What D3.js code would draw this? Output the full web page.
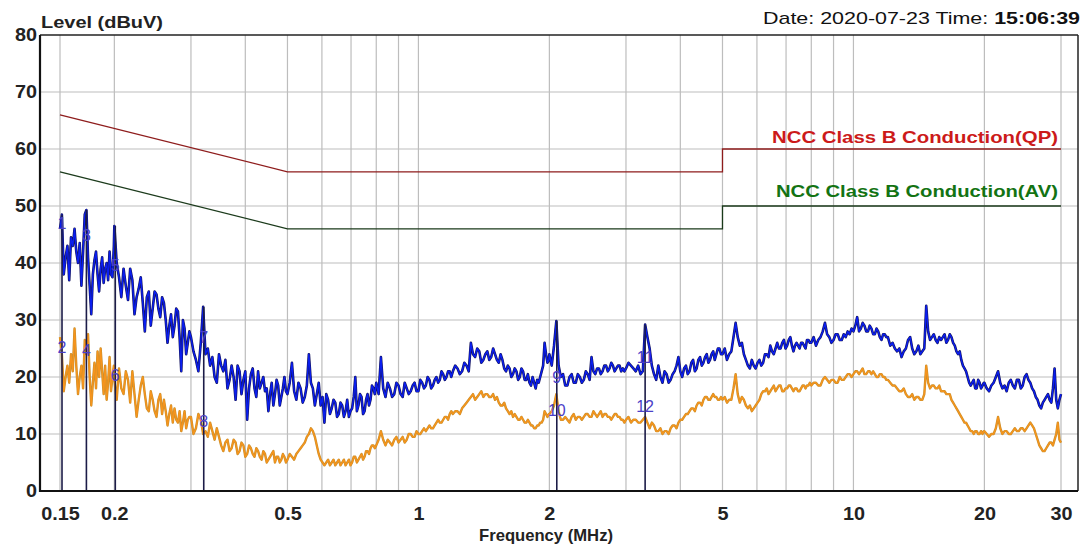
<!DOCTYPE html>
<html><head><meta charset="utf-8">
<script src="https://cdn.jsdelivr.net/npm/d3@7"></script>
<style>
body{margin:0;background:#fff}
svg{display:block}
text{font-family:"Liberation Sans",Arial,sans-serif}
</style>
</head><body>
<svg id="chart" width="1084" height="546"></svg>
<script>
// ---------------- data ----------------
// Frequency of every scan point (MHz)
const freqs = [
0.1500,0.1515,0.1530,0.1545,0.1560,0.1575,0.1590,0.1605,0.1620,0.1635,0.1650,0.1665,0.1680,0.1695,0.1710,0.1725,0.1740,0.1755,0.1770,0.1785,0.1800,0.1815,0.1830,0.1845,0.1860,0.1875,0.1890,0.1905,0.1920,0.1935,0.1950,0.1965,0.1980,0.1995,
0.2000,0.2025,0.2050,0.2075,0.2100,0.2125,0.2150,0.2175,0.2200,0.2225,0.2250,0.2275,0.2300,0.2325,0.2350,0.2375,0.2400,0.2425,0.2450,0.2475,0.2500,0.2525,0.2550,0.2575,0.2600,0.2625,0.2650,0.2675,0.2700,0.2725,0.2750,0.2775,0.2800,0.2825,0.2850,0.2875,0.2900,0.2925,0.2950,0.2975,
0.300,0.304,0.308,0.312,0.316,0.320,0.324,0.328,0.332,0.336,0.340,0.344,0.348,0.352,0.356,0.360,0.364,0.368,0.372,0.376,0.380,0.384,0.388,0.392,0.396,0.400,0.404,0.408,0.412,0.416,0.420,0.424,0.428,0.432,0.436,0.440,0.444,0.448,0.452,0.456,0.460,0.464,0.468,0.472,0.476,0.480,0.484,0.488,0.492,0.496,
0.500,0.506,0.512,0.518,0.524,0.530,0.536,0.542,0.548,0.554,0.560,0.566,0.572,0.578,0.584,0.590,0.596,0.602,0.608,0.614,0.620,0.626,0.632,0.638,0.644,0.650,0.656,0.662,0.668,0.674,0.680,0.686,0.692,0.698,0.704,0.710,0.716,0.722,0.728,0.734,0.740,0.746,0.752,0.758,0.764,0.770,0.776,0.782,0.788,0.794,
0.80,0.81,0.82,0.83,0.84,0.85,0.86,0.87,0.88,0.89,0.90,0.91,0.92,0.93,0.94,0.95,0.96,0.97,0.98,0.99,1.00,1.01,1.02,1.03,1.04,1.05,1.06,1.07,1.08,1.09,1.10,1.11,1.12,1.13,1.14,1.15,1.16,1.17,1.18,1.19,
1.200,1.215,1.230,1.245,1.260,1.275,1.290,1.305,1.320,1.335,1.350,1.365,1.380,1.395,1.410,1.425,1.440,1.455,1.470,1.485,1.500,1.515,1.530,1.545,1.560,1.575,1.590,1.605,1.620,1.635,1.650,1.665,1.680,1.695,1.710,1.725,1.740,1.755,1.770,1.785,1.800,1.815,1.830,1.845,1.860,1.875,1.890,1.905,1.920,1.935,1.950,1.965,1.980,1.995,
2.000,2.025,2.050,2.075,2.100,2.125,2.150,2.175,2.200,2.225,2.250,2.275,2.300,2.325,2.350,2.375,2.400,2.425,2.450,2.475,2.500,2.525,2.550,2.575,2.600,2.625,2.650,2.675,2.700,2.725,2.750,2.775,2.800,2.825,2.850,2.875,2.900,2.925,2.950,2.975,
3.00,3.04,3.08,3.12,3.16,3.20,3.24,3.28,3.32,3.36,3.40,3.44,3.48,3.52,3.56,3.60,3.64,3.68,3.72,3.76,3.80,3.84,3.88,3.92,3.96,4.00,4.04,4.08,4.12,4.16,4.20,4.24,4.28,4.32,4.36,4.40,4.44,4.48,4.52,4.56,4.60,4.64,4.68,4.72,4.76,4.80,4.84,4.88,4.92,4.96,
5.00,5.06,5.12,5.18,5.24,5.30,5.36,5.42,5.48,5.54,5.60,5.66,5.72,5.78,5.84,5.90,5.96,6.02,6.08,6.14,6.20,6.26,6.32,6.38,6.44,6.50,6.56,6.62,6.68,6.74,6.80,6.86,6.92,6.98,7.04,7.10,7.16,7.22,7.28,7.34,7.40,7.46,7.52,7.58,7.64,7.70,7.76,7.82,7.88,7.94,
8.0,8.1,8.2,8.3,8.4,8.5,8.6,8.7,8.8,8.9,9.0,9.1,9.2,9.3,9.4,9.5,9.6,9.7,9.8,9.9,10.0,10.1,10.2,10.3,10.4,10.5,10.6,10.7,10.8,10.9,11.0,11.1,11.2,11.3,11.4,11.5,11.6,11.7,11.8,11.9,
12.00,12.15,12.30,12.45,12.60,12.75,12.90,13.05,13.20,13.35,13.50,13.65,13.80,13.95,14.10,14.25,14.40,14.55,14.70,14.85,15.00,15.15,15.30,15.45,15.60,15.75,15.90,16.05,16.20,16.35,16.50,16.65,16.80,16.95,17.10,17.25,17.40,17.55,17.70,17.85,18.00,18.15,18.30,18.45,18.60,18.75,18.90,19.05,19.20,19.35,19.50,19.65,19.80,19.95,
20.00,20.25,20.50,20.75,21.00,21.25,21.50,21.75,22.00,22.25,22.50,22.75,23.00,23.25,23.50,23.75,24.00,24.25,24.50,24.75,25.00,25.25,25.50,25.75,26.00,26.25,26.50,26.75,27.00,27.25,27.50,27.75,28.00,28.25,28.50,28.75,29.00,29.25,29.50,29.75,30.00
];
// Peak (QP scan, blue) level in dBuV
const peakLevels = [
46,48.5,38,41,43,37,44.5,43,46,42,40,43.5,36,42,48.5,49.3,41,36,31,38,40.5,42,38,35,39,41,36.5,39,40,37,42,38,37.5,43,
46.5,40,37.5,34,39,36,33.5,39,37,31,34,35.5,37.5,33,28,34,35,29,32,35,34.5,32,30.5,34,33,30,26,29,31,27,29,32,31.5,27,21,30,28.5,24,26,28,
27,24.5,23,21,26,32.3,24,25,22,23.5,20,19,24,22,21,23,18,19.5,22,20,16,22,21,17,19.5,21,12.5,18,20.5,21.5,18,16.5,21,18,19,20,17.5,18,14,17,19,15,17,19.5,18.5,15,16.5,18,20,17.5,
17,19,22.5,17.5,16,19,18,15.5,16.5,18.5,24,19,18,15,17,19,15,16.5,12,17,16,13.5,14.5,16,15.5,13,13.5,15.5,15,13,14,16,13,14,14.5,16.5,20,14,15,17,16.5,13.5,14,16,17,15,16,18.5,18,17,
19,17,23.5,18,16.5,19,18,16.5,17,19,18.5,17,16.5,19,18,17,17.5,18.5,19,17.5,17.5,19.5,19,18,18.5,20,19.5,18,18.5,19.5,20,19,19.5,21,20.5,19.5,20,21,21,20,
21,22,21.5,20.5,21,22.5,22,21,26,24,23.5,25,24.5,22.5,23,24,24.5,23,23.5,25,24,23,22.5,24,23,21.5,21,22,21.5,20,20.5,21.5,21,19.5,20,21.5,21,19.5,19.5,20.5,19,18.5,20,19,18,19.5,19,20,21,22,26,24,22.5,23,
24,22,25.5,29.8,22,20,20.5,18.5,18.5,20,20.5,19,19,20.5,20,19,19.5,21,20.5,19.5,23.5,21,20.5,21.5,21.5,20.5,21,22,22,21,21.5,22.5,22,21,21.5,22,22,21,21.5,21,
21.5,22.5,22,21.5,21,22,20.5,21,29.2,27,25,22,20.5,19.5,22,20,19,21,20.5,19,19.5,20.5,21,22,23.5,21,20,21.5,22,20.5,21,22.5,23,21,21.5,23,23.5,22,22.5,23.5,24,22.5,23,24,24.5,23,24,25,25,24,
24,25,23,24,24.5,27,29.5,27,25.5,26,24,23,22,21.5,23,22,21.5,22.5,23,22,22.5,24,24,23.5,25.5,24.5,24,25,26,25,25,26,26.5,25,25.5,26.5,27,25.5,24.5,25.5,26,25.5,25,26,26,25.5,25,26.5,26.5,26,
26,27,25.5,26.5,27,28,29.5,27.5,27,26,26.5,27.5,27.5,26.5,26.5,27.5,27,28,27.5,28.5,28,29,30.5,28,28.5,29.5,29,28,28,29,28.5,27.5,27.5,28.5,28,27,26.5,27.5,27.5,27,
27,25.5,26,25,24.5,25,23.5,24.5,25,26.5,27,25,24,24.5,25.5,24,24.5,25,32.5,28,26.5,27,27.5,26.5,26,27,26.5,27,27.5,26,26.5,27.5,27,26,25.5,24.5,24,24.5,23,22,21.5,21,20,19,18.5,19,19.5,18,18,19.5,19,18,18.5,19,
19,18,17.5,18.5,19,20,21,19,18,18.5,17.5,19,19.5,18.5,18,19.5,19.5,18,18.5,20,20.5,19.5,19,18,17.5,16.5,16,15,14.5,15.5,16,16.5,17,16,15.5,18,21.5,16,14.5,16,17
];
// Average (AV scan, orange) level in dBuV
const avgLevels = [
27,24,17.5,20,22,19,24,21,28.5,22,17,20,22,18,26.5,24,27.5,20,15,19,22.5,18,24.5,20,25,21,17,22,16,19,23.5,17.5,20,22,
19.5,16,21.5,18,17,21,19.5,15.5,21,17,13,16,18.5,20,17,14.5,14,17.5,16,14,13,16,17,13.5,16,14,11.5,13.5,15,12,14.5,12.5,12,14,10.5,12,14,11,12.5,13,
13,10,11,13.5,12.5,10,10.5,9.5,12,10.5,9,11,9.5,8,7,8.5,9,7,7.5,9,8.5,6.5,7,8.5,8,6,6.5,8,7.5,6.5,6,7.5,7,6,5.5,7,6.5,5,5.5,6,6.5,7,5,6,6,5,5.5,6.5,6,5,
5.5,6.5,6,5.5,6.5,7,7.5,8,8.5,9.5,10,11,10.5,9.5,8,6.5,5.5,5,4.5,5,5.5,4.5,5,5.5,4.5,5,5.5,4.5,5,5.5,4.5,5,5.5,4.5,5,6,6,5,5.5,6,6.5,5.5,6,7,7,6.5,7.5,8,8,7.5,
8,9,10.5,9,8,9,8.5,8,9,9.5,8.5,9,9.5,8.5,9,10,10,9.5,9.5,10.5,10,10,10.5,11,10.5,11,11.5,11,11,11.5,12,12.5,12,12,12.5,13,13,12.5,13.5,14,
13.5,14,14,13.5,14.5,15,15.5,16,16.5,17,16,16.5,17,17.5,16.5,17,17,16.5,16.5,17,16,16.5,15.5,15,15,15.5,14.5,14,13.5,14,13,13.5,13,12.5,12.5,13,12.5,12,12,12.5,12,11.5,11.5,11,11,11.5,11.5,12,12,12.5,14,13.5,13,13.5,
13.5,14,15,17,14,12.5,12.5,13,12.5,12,13,13.5,12.5,13,13,12.5,13,13.5,13.5,13,13,14,13.5,13,13.5,14,13,13.5,13.5,13,13,12.5,13,13.5,13.5,13,13,12.5,12.5,12,
12.5,13,12,12.5,12.5,12,12,12.5,13,12,11,12,11.5,10.5,10.5,11,10,10.5,10.5,10,11,11.5,11.5,11,12,12.5,12.5,13,13.5,13.5,14,14.5,14.5,14,15,15.5,15.5,15,16,16.5,16.5,16,16,16.5,17,16.5,16.5,16,16,16.5,
16,16.5,15.5,16,16,18,20.5,17,15.5,16.5,16,15,14.5,15,14,14.5,15,15.5,16,17,17.5,17.5,18,17,17.5,18,18.5,17.5,18,18.5,18.5,17.5,17.5,18,18,18.5,18.5,18,17.5,18,18,17.5,17.5,18,18.5,18.5,18,18.5,18.5,19,
18.5,19,19,18.5,18.5,19.5,20,19.5,19,19.5,19.5,19,19,20,19.5,19.5,20,20.5,20.5,20,20.5,21,21,20.5,21,21.5,20.5,20.5,21,21,20.5,21,20.5,20,20,20.5,20.5,20,20,19.5,
19.5,19,18.5,18.5,18,17.5,17.5,18,17,16.5,16.5,17,16,16.5,16.5,16,16,17,22,19,18,18.5,18.5,18,18,18.5,17.5,17.5,17.5,17,17,17,16,15.5,15,14.5,14,13.5,13,12.5,12,12,11.5,11,10.5,10.5,10,10.5,10.5,10,10,10.5,10,10.5,
10.5,10,9.5,10,10,11,13,11,10,10.5,10.5,10,10,10.5,11,10.5,10.5,11,11,10.5,11,11.5,12,11.5,11,10,9,8,7.5,7,7,7.5,8,8.5,8.5,8,9,10,12,9,8.5
];

// Limit lines (NCC Class B conduction)
const limitFreqs = [0.15, 0.5, 5, 5, 30];
const qpLimit = [66, 56, 56, 60, 60];
const avLimit = [56, 46, 46, 50, 50];

// Markers
const markerFreqs = [0.1516, 0.1725, 0.201, 0.321, 2.08, 3.32];
const markerTops  = [48.5, 49.3, 46.5, 32.3, 29.8, 29.2];
const oddNames    = ["1","3","5","7","9","11"];
const oddLevels   = [47, 45, 39.6, 27, 20, 23.5];
const evenNames   = ["2","4","6","8","10","12"];
const evenLevels  = [25.3, 24.7, 20.4, 12.3, 14.2, 15];

// Axis ticks
const yTicks = [0,10,20,30,40,50,60,70,80];
const xTickValues = [0.15,0.2,0.5,1,2,5,10,20,30];
const xTickLabels = ["0.15","0.2","0.5","1","2","5","10","20","30"];
const xGridValues = [0.15,0.2,0.3,0.4,0.5,0.6,0.7,0.8,0.9,1,2,3,4,5,6,7,8,9,10,20,30];
const yGridValues = [10,20,30,40,50,60,70];

// ---------------- drawing ----------------
const svg = d3.select("#chart");
const frameL = 40, frameR = 1078, frameT = 35, frameB = 491;
const x = d3.scaleLog().domain([0.15, 30]).range([60, 1061]);
const y = d3.scaleLinear().domain([0, 80]).range([491, 35]);

function stretch(sel, k){
  sel.each(function(){
    const w = this.getComputedTextLength();
    d3.select(this).attr("textLength", w*k).attr("lengthAdjust","spacingAndGlyphs");
  });
}

// grid
const g = svg.append("g");
g.selectAll("line.vg").data(xGridValues).join("line")
  .attr("x1", d=>x(d)).attr("x2", d=>x(d)).attr("y1", frameT).attr("y2", frameB)
  .attr("stroke", "#bdbdbd").attr("stroke-width", 1.2);
g.selectAll("line.hg").data(yGridValues).join("line")
  .attr("x1", frameL).attr("x2", frameR).attr("y1", d=>y(d)).attr("y2", d=>y(d))
  .attr("stroke", "#bdbdbd").attr("stroke-width", 1.2);

// limits
const limIdx = d3.range(limitFreqs.length);
const limLine = arr => d3.line().x(i=>x(limitFreqs[i])).y(i=>y(arr[i]))(limIdx);
svg.append("path").attr("d", limLine(qpLimit)).attr("fill","none").attr("stroke","#8e1c1c").attr("stroke-width",1.3);
svg.append("path").attr("d", limLine(avLimit)).attr("fill","none").attr("stroke","#1b3a1b").attr("stroke-width",1.3);

const lq = svg.append("text").text("NCC Class B Conduction(QP)").attr("x",1058).attr("y",143)
  .attr("text-anchor","end").attr("font-size",17).attr("font-weight","bold").attr("fill","#cc1a1a");
lq.attr("textLength",286).attr("lengthAdjust","spacingAndGlyphs");
const la = svg.append("text").text("NCC Class B Conduction(AV)").attr("x",1058).attr("y",197)
  .attr("text-anchor","end").attr("font-size",17).attr("font-weight","bold").attr("fill","#137313");
la.attr("textLength",282).attr("lengthAdjust","spacingAndGlyphs");

// traces
const idx = d3.range(freqs.length);
const trace = arr => d3.line().x(i=>x(freqs[i])).y(i=>y(arr[i]))(idx);
svg.append("path").attr("d", trace(avgLevels)).attr("fill","none").attr("stroke","#c8902e").attr("stroke-width",2.4).attr("stroke-linejoin","round");
svg.append("path").attr("d", trace(avgLevels)).attr("fill","none").attr("stroke","#f7941c").attr("stroke-width",1.3).attr("stroke-linejoin","round");
svg.append("path").attr("d", trace(peakLevels)).attr("fill","none").attr("stroke","#15155e").attr("stroke-width",2.6).attr("stroke-linejoin","round");
svg.append("path").attr("d", trace(peakLevels)).attr("fill","none").attr("stroke","#0a1ef0").attr("stroke-width",1.4).attr("stroke-linejoin","round");

// marker lines
svg.selectAll("line.mk").data(markerFreqs).join("line")
  .attr("x1", d=>x(d)).attr("x2", d=>x(d))
  .attr("y1", (d,i)=>y(markerTops[i])).attr("y2", y(0))
  .attr("stroke","#1c1c48").attr("stroke-width",1.6);
const mkText = (names, levels) => svg.append("g").selectAll("text").data(names).join("text")
  .text(d=>d).attr("x",(d,i)=>x(markerFreqs[i])).attr("y",(d,i)=>y(levels[i])+6)
  .attr("text-anchor","middle").attr("font-size",16).attr("fill","#4a40c8");
mkText(oddNames, oddLevels);
mkText(evenNames, evenLevels);

// axes
const yAxis = svg.append("g").attr("transform",`translate(${frameL},0)`)
  .call(d3.axisLeft(y).tickValues(yTicks).tickSize(0).tickPadding(3));
yAxis.select(".domain").remove();
yAxis.selectAll("text").attr("font-size",18).attr("font-weight","bold").attr("fill","#222")
  .attr("font-family","'Liberation Sans',Arial,sans-serif");
stretch(yAxis.selectAll("text"), 1.1);

const xAxis = svg.append("g").attr("transform",`translate(0,${frameB})`)
  .call(d3.axisBottom(x).tickValues(xTickValues).tickFormat((d,i)=>xTickLabels[i]).tickSize(0).tickPadding(16));
xAxis.select(".domain").remove();
xAxis.selectAll("text").attr("font-size",18).attr("font-weight","bold").attr("fill","#222")
  .attr("font-family","'Liberation Sans',Arial,sans-serif");
stretch(xAxis.selectAll("text"), 1.1);

// frame
svg.append("line").attr("x1",frameL).attr("x2",frameR).attr("y1",frameT).attr("y2",frameT).attr("stroke","#222").attr("stroke-width",1.5);
svg.append("line").attr("x1",frameR).attr("x2",frameR).attr("y1",frameT).attr("y2",frameB).attr("stroke","#222").attr("stroke-width",1.5);
svg.append("line").attr("x1",frameL).attr("x2",frameL).attr("y1",frameT).attr("y2",frameB+1).attr("stroke","#111").attr("stroke-width",2.2);
svg.append("line").attr("x1",frameL-1).attr("x2",frameR).attr("y1",frameB).attr("y2",frameB).attr("stroke","#111").attr("stroke-width",2.2);

// titles
const t1 = svg.append("text").text("Level (dBuV)").attr("x",41).attr("y",28)
  .attr("font-size",17).attr("font-weight","bold").attr("fill","#222");
t1.attr("textLength",122).attr("lengthAdjust","spacingAndGlyphs");
const dt = svg.append("text").attr("x",1080).attr("y",24).attr("text-anchor","end")
  .attr("font-size",17).attr("fill","#111");
dt.append("tspan").text("Date: 2020-07-23  Time: ").attr("font-weight","normal");
dt.append("tspan").text("15:06:39").attr("font-weight","bold");
dt.attr("textLength",317).attr("lengthAdjust","spacingAndGlyphs");
const xl = svg.append("text").text("Frequency (MHz)").attr("x",546).attr("y",541).attr("text-anchor","middle")
  .attr("font-size",17).attr("font-weight","bold").attr("fill","#222");
xl.attr("textLength",134).attr("lengthAdjust","spacingAndGlyphs");
</script>
</body></html>
